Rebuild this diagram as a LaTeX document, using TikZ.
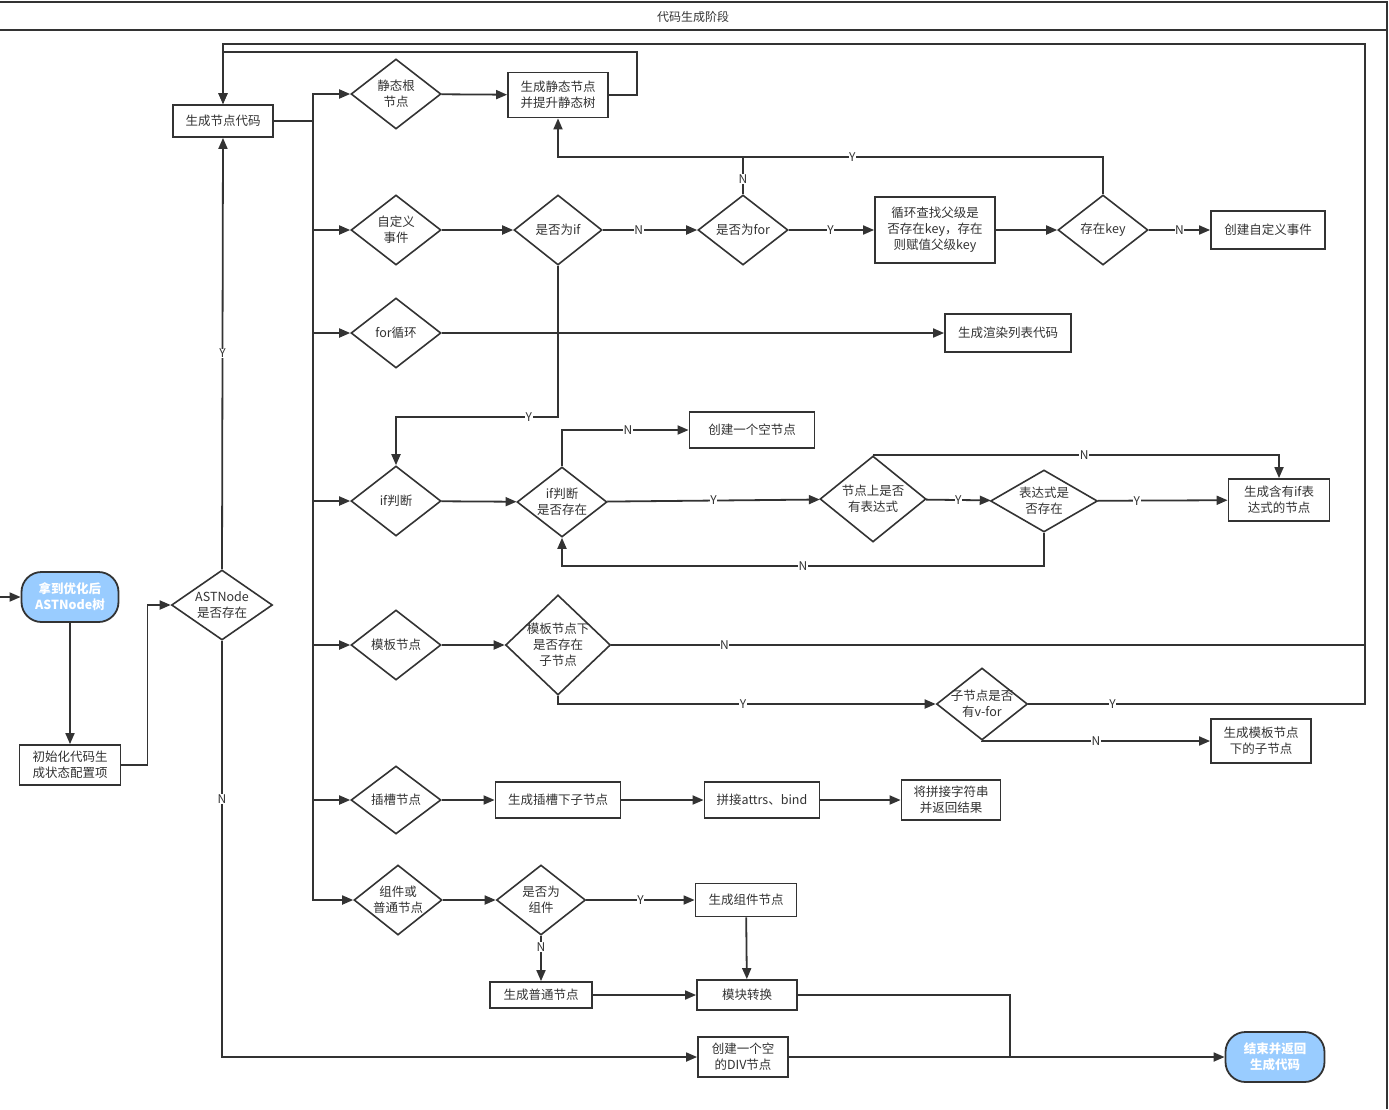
\documentclass[tikz,border=0pt]{standalone}
\usepackage{fontspec}
\setmainfont{Noto Sans CJK SC}
\usepackage{tikz}
\usetikzlibrary{shapes.geometric,arrows.meta,positioning}
\tikzset{every node/.append style={align=center}}
\definecolor{linecolor}{RGB}{51, 51, 51}
\definecolor{termcolor}{RGB}{153, 204, 255}
\tikzset{
    box/.style={draw=linecolor, line width=1.8pt, fill=white, text=linecolor, inner sep=2pt, font=\fontsize{12.5}{16}\selectfont},
    decision/.style={draw=linecolor, diamond, line width=1.6pt, fill=white, text=linecolor, inner sep=0pt, aspect=1.3, minimum width=90, minimum height=70, font=\fontsize{12.5}{16}\selectfont},
    terminal/.style={draw=linecolor, line width=1.8pt, fill=termcolor, rounded corners=20pt, text=white, minimum width=97, minimum height=50, font=\bfseries\fontsize{12.5}{16}\selectfont},
    flow/.style={draw=linecolor, line width=1.8pt, -{Stealth[length=11pt, width=9pt, inset=0pt]}},
    link/.style={draw=linecolor, line width=1.8pt},
    frame/.style={draw=linecolor, line width=2.2pt},
    yn/.style={fill=white, text=linecolor, inner sep=0.5pt, font=\fontsize{12}{13}\selectfont}
}

\begin{document}
\begin{tikzpicture}[x=1pt, y=-1pt]
    \useasboundingbox (0,0) rectangle (1389,1109);

    % Header
    \draw[frame] (0,2) -- (1387,2) -- (1387,1109);
    \draw[frame] (0,30) -- (1387,30);
    \node[text=linecolor, font=\fontsize{12}{14}\selectfont] (title) at (693,17) {代码生成阶段};

    % Start
    \coordinate (entry) at (0,597);
    \node[terminal] (start) at (70,597) {拿到优化后\\ASTNode树};
    \node[box, minimum width=101, minimum height=40] (init) at (70,765) {初始化代码生\\成状态配置项};
    \node[decision, minimum width=101] (ast) at (222,605) {ASTNode\\是否存在};
    \node[box, minimum width=100, minimum height=32] (gen) at (223,121) {生成节点代码};
    \coordinate (trunk) at (313,121);

    % Branches
    \node[decision] (sroot) at (396,94) {静态根\\节点};
    \node[decision] (evt) at (396,230) {自定义\\事件};
    \node[decision] (forl) at (396,333) {for循环};
    \node[decision] (ifj) at (396,501) {if判断};
    \node[decision] (tpl) at (396,645) {模板节点};
    \node[decision, minimum height=68] (slot) at (396,800) {插槽节点};
    \node[decision, minimum width=88] (comp) at (398,900) {组件或\\普通节点};

    % Static root
    \node[box, minimum width=100, minimum height=45] (genst) at (558,95) {生成静态节点\\并提升静态树};

    % Custom event
    \node[decision, minimum width=88] (isif) at (558,230) {是否为if};
    \node[decision] (isfor) at (743,230) {是否为for};
    \node[box, minimum width=120, minimum height=66] (loopkey) at (935,230) {循环查找父级是\\否存在key，存在\\则赋值父级key};
    \node[decision] (haskey) at (1103,230) {存在key};
    \node[box, minimum width=114, minimum height=38] (mkevt) at (1268,230) {创建自定义事件};
    \coordinate (keyT) at (1103,157);
    \coordinate (ifbend) at (558,417);

    % For loop
    \node[box, minimum width=126, minimum height=38] (renderl) at (1008,333) {生成渲染列表代码};

    % If
    \node[decision] (ifex) at (562,502) {if判断\\是否存在};
    \node[box, minimum width=125, minimum height=36] (empty) at (752,430) {创建一个空节点};
    \node[decision, minimum width=106, minimum height=86, aspect=1.25] (hasexp) at (873,499) {节点上是否\\有表达式};
    \node[decision, minimum width=107, minimum height=62, aspect=1.7] (expex) at (1044,501) {表达式是\\否存在};
    \node[box, minimum width=101, minimum height=42] (genif) at (1279,500) {生成含有if表\\达式的节点};
    \coordinate (expB) at (1044,566);

    % Template
    \node[decision, minimum width=105, minimum height=100, aspect=1.05, inner sep=-3pt] (tplq) at (558,645) {模板节点下\\是否存在\\子节点};
    \node[decision, minimum width=91, minimum height=72, inner sep=-4pt] (vfor) at (982,704) {子节点是否\\有v-for};
    \node[box, minimum width=100, minimum height=44] (subnode) at (1261,741) {生成模板节点\\下的子节点};
    \coordinate (loopR) at (1365,44);
    \coordinate (loopS) at (637,52);

    % Slot
    \node[box, minimum width=125, minimum height=36] (genslot) at (558,800) {生成插槽下子节点};
    \node[box, minimum width=115, minimum height=36] (concat) at (762,800) {拼接attrs、bind};
    \node[box, minimum width=99, minimum height=40] (joinres) at (951,800) {将拼接字符串\\并返回结果};

    % Component
    \node[decision, minimum width=89] (iscomp) at (541,900) {是否为\\组件};
    \node[box, minimum width=101, minimum height=33] (gencomp) at (746,900) {生成组件节点};
    \node[box, minimum width=102, minimum height=26] (gennorm) at (541,995) {生成普通节点};
    \node[box, minimum width=100, minimum height=30] (modconv) at (747,995) {模块转换};

    % End
    \node[box, minimum width=90, minimum height=40] (div) at (743,1057) {创建一个空\\的DIV节点};
    \node[terminal, minimum width=99] (finish) at (1275,1057) {结束并返回\\生成代码};
    \coordinate (merge) at (1010,1057);

    % Connectors
    \draw[flow] (entry) -- (start.west);
    \draw[flow] (start.south) -- (init.north);
    \draw[flow] (init.east) -- ++(26,0) |- (ast.west);
    \draw[flow] (ast.north) -- node[yn]{Y} (gen.south);
    \draw[flow] (ast.south) |- node[yn, pos=0.19]{N} (div.west);
    \draw[link] (gen.east) -- (trunk);
    \draw[flow] (trunk) |- (sroot.west);
    \draw[flow] (trunk) |- (evt.west);
    \draw[flow] (trunk) |- (forl.west);
    \draw[flow] (trunk) |- (ifj.west);
    \draw[flow] (trunk) |- (tpl.west);
    \draw[flow] (trunk) |- (slot.west);
    \draw[flow] (trunk) |- (comp.west);

    \draw[flow] (sroot) -- (genst);
    \draw[flow] (genst.east) -| (loopS) -| (gen.north);

    \draw[flow] (evt) -- (isif);
    \draw[flow] (isif) -- node[yn, pos=0.38]{N} (isfor);
    \draw[flow] (isfor) -- node[yn, pos=0.49]{Y} (loopkey);
    \draw[flow] (loopkey) -- (haskey);
    \draw[flow] (haskey) -- node[yn, pos=0.5]{N} (mkevt);
    \draw[flow] (haskey.north) -- (keyT) -| node[yn, pos=0.23]{Y} (genst.south);
    \draw[link] (isfor.north) -- node[yn, pos=0.4]{N} (isfor.north |- keyT);
    \draw[flow] (isif.south) -- (ifbend) -| node[yn, pos=0.09]{Y} (ifj.north);

    \draw[flow] (forl) -- (renderl);

    \draw[flow] (ifj) -- (ifex);
    \draw[flow] (ifex.north) |- node[yn, pos=0.76]{N} (empty.west);
    \draw[flow] (ifex) -- node[yn]{Y} (hasexp);
    \draw[flow] (hasexp.north) -| node[yn, pos=0.26]{N} (genif.north);
    \draw[flow] (hasexp) -- node[yn]{Y} (expex);
    \draw[flow] (expex) -- node[yn, pos=0.3]{Y} (genif);
    \draw[flow] (expex.south) -- (expB) -| node[yn, pos=0.25]{N} (ifex.south);

    \draw[flow] (tpl) -- (tplq);
    \draw[link] (tplq.east) -- node[yn, pos=0.15]{N} (tplq.east -| loopR);
    \draw[flow] (tplq.south) |- node[yn, pos=0.745]{Y} (vfor.west);
    \draw[flow] (vfor.east) -- node[yn, pos=0.25]{Y} (vfor.east -| loopR) -- (loopR) -| (gen.north);
    \draw[flow] (vfor.south) |- node[yn, pos=0.75]{N} (subnode.west);

    \draw[flow] (slot) -- (genslot);
    \draw[flow] (genslot) -- (concat);
    \draw[flow] (concat) -- (joinres);

    \draw[flow] (comp) -- (iscomp);
    \draw[flow] (iscomp) -- node[yn]{Y} (gencomp);
    \draw[flow] (iscomp) -- node[yn, pos=0.25]{N} (gennorm);
    \draw[flow] (gencomp) -- (modconv);
    \draw[flow] (gennorm) -- (modconv);
    \draw[link] (modconv.east) -| (merge);
    \draw[flow] (div) -- (finish);
\end{tikzpicture}
\end{document}
